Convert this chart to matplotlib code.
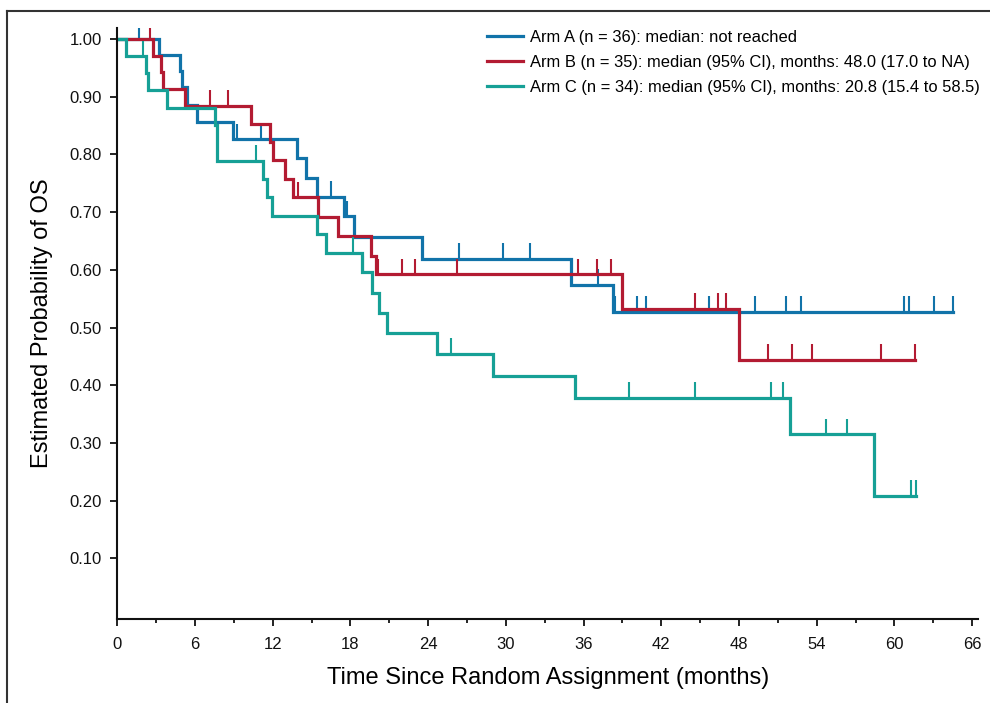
import matplotlib
matplotlib.use("Agg")
import matplotlib.pyplot as plt
from matplotlib.lines import Line2D
from matplotlib.ticker import MultipleLocator, FormatStrFormatter
import numpy as np

# Tiempos (meses) y probabilidad estimada tras cada evento
arm_a_time = [0, 3.24, 4.84, 4.97, 5.36, 6.13, 8.96, 13.9, 14.57, 15.45,
              17.5, 18.3, 23.5, 35.0, 38.24]
arm_a_surv = [1.0, 0.972, 0.944, 0.916, 0.886, 0.857, 0.826, 0.793, 0.760,
              0.727, 0.693, 0.657, 0.619, 0.574, 0.527]
arm_a_cens = [1.68, 9.27, 11.1, 16.5, 17.7, 26.4, 29.8, 31.9, 37.1, 38.4,
              40.15, 40.8, 45.7, 49.2, 51.6, 52.8, 60.75, 61.1, 63.07, 64.55]

arm_b_time = [0, 2.75, 3.4, 3.55, 5.25, 10.3, 11.8, 12.0, 12.95, 13.54,
              15.52, 17.0, 19.6, 20.0, 39.0, 48.0]
arm_b_surv = [1.0, 0.971, 0.943, 0.913, 0.884, 0.853, 0.822, 0.790, 0.757,
              0.726, 0.692, 0.658, 0.624, 0.592, 0.533, 0.444]
arm_b_cens = [2.53, 7.16, 8.57, 13.98, 20.15, 22.0, 23.0, 26.2, 35.6, 37.0,
              38.1, 44.6, 46.4, 47.0, 50.2, 52.1, 53.6, 58.97, 61.6]

arm_c_time = [0, 0.67, 2.19, 2.4, 3.81, 7.55, 7.67, 11.28, 11.58, 11.92,
              15.4, 16.1, 18.87, 19.7, 20.2, 20.8, 24.66, 29.0, 35.3, 51.9,
              58.45]
arm_c_surv = [1.0, 0.970, 0.941, 0.912, 0.880, 0.851, 0.789, 0.757, 0.726,
              0.693, 0.662, 0.630, 0.597, 0.560, 0.525, 0.490, 0.455, 0.416,
              0.378, 0.315, 0.208]
arm_c_cens = [1.96, 10.7, 18.18, 19.0, 25.75, 39.5, 44.6, 50.5, 51.4, 54.7,
              56.3, 61.3, 61.7]

labels = [
    "Arm A (n = 36): median: not reached",
    "Arm B (n = 35): median (95% CI), months: 48.0 (17.0 to NA)",
    "Arm C (n = 34): median (95% CI), months: 20.8 (15.4 to 58.5)",
]
colors = ["#1173a9", "#b31b32", "#16a096"]

x_ticks = list(range(0, 67, 6))
y_ticks = [0.1, 0.2, 0.3, 0.4, 0.5, 0.6, 0.7, 0.8, 0.9, 1.0]

plt.rcParams["font.family"] = ["Liberation Sans", "DejaVu Sans"]


def draw_arm(ax, time, surv, cens, color, label):
    """Dibuja la curva escalonada y las marcas de censura de un brazo."""
    end = max(cens[-1], time[-1])
    x = list(time) + [end]
    y = list(surv) + [surv[-1]]
    ax.step(x, y, where="post", color=color, linewidth=2.3, label=label,
            solid_joinstyle="miter")
    # Marcas de censura: pequeños trazos verticales sobre la curva
    idx = np.searchsorted(time, cens, side="right") - 1
    base = np.array(surv)[idx]
    ax.vlines(cens, base, base + 0.027, color=color, linewidth=1.5)


fig = plt.figure(figsize=(9.9, 7.03), dpi=100)
ax = fig.add_axes([0.1185, 0.1195, 0.8695, 0.8402])

draw_arm(ax, arm_a_time, arm_a_surv, arm_a_cens, colors[0], labels[0])
draw_arm(ax, arm_b_time, arm_b_surv, arm_b_cens, colors[1], labels[1])
draw_arm(ax, arm_c_time, arm_c_surv, arm_c_cens, colors[2], labels[2])

ax.set_xlim(0, 66.46)
ax.set_ylim(-0.005, 1.0185)
ax.set_xticks(x_ticks)
ax.xaxis.set_minor_locator(MultipleLocator(3))
ax.set_yticks(y_ticks)
ax.yaxis.set_major_formatter(FormatStrFormatter("%.2f"))

for side in ["top", "right"]:
    ax.spines[side].set_visible(False)
for side in ["left", "bottom"]:
    ax.spines[side].set_linewidth(1.5)
    ax.spines[side].set_color("#111111")

ax.tick_params(axis="both", which="major", length=5, width=1.3,
               labelsize=12, colors="#111111")
ax.tick_params(axis="x", which="major", pad=8)
ax.tick_params(axis="y", which="major", pad=6)
ax.tick_params(axis="x", which="minor", length=3, width=1.2)

label_font = ["Liberation Sans Narrow", "Liberation Sans", "DejaVu Sans"]
ax.set_xlabel("Time Since Random Assignment (months)", fontsize=17,
              family=label_font, labelpad=11)
ax.set_ylabel("Estimated Probability of OS", fontsize=17,
              family=label_font, labelpad=12)

ax.legend(loc="upper left", bbox_to_anchor=(0.4296, 0.997), frameon=False,
          fontsize=11.9, handlelength=2.2, handletextpad=0.4,
          labelspacing=0.6, borderpad=0, borderaxespad=0)

# Marco de la figura (línea superior e izquierda)
fig.add_artist(Line2D([7.3 / 990, 1.0], [1 - 11 / 703, 1 - 11 / 703],
                      color="#333333", linewidth=1.5))
fig.add_artist(Line2D([7.3 / 990, 7.3 / 990], [0, 1 - 11 / 703],
                      color="#333333", linewidth=1.5))

fig.savefig("out.png", dpi=100)
plt.close(fig)
